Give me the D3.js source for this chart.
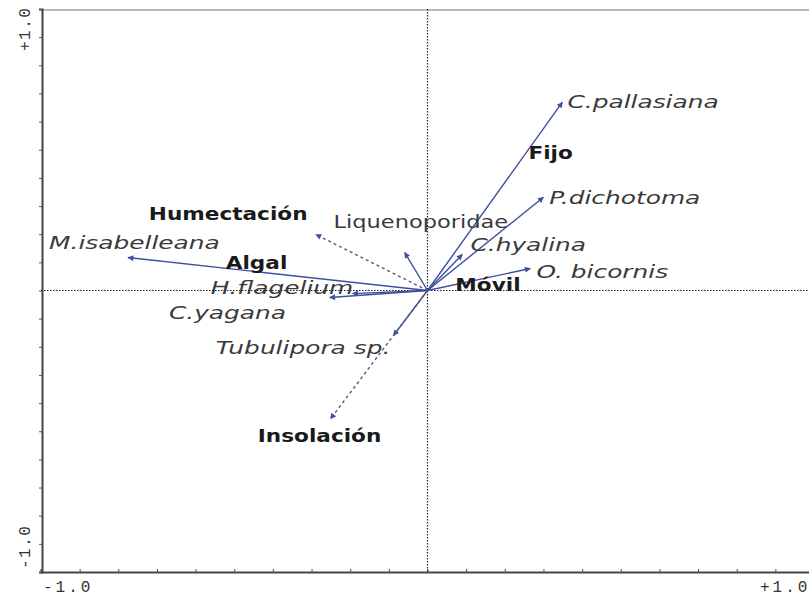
<!DOCTYPE html>
<html><head><meta charset="utf-8">
<script src="https://cdn.jsdelivr.net/npm/d3@7"></script>
<style>body{margin:0;background:#fff}</style>
</head><body>
<svg id="c" width="809" height="597"></svg>
<script>
// species (solid arrows)
const species = ["C.pallasiana","P.dichotoma","C.hyalina","O. bicornis","M.isabelleana","H.flagelium","C.yagana","Liquenoporidae","Tubulipora sp."];
const speciesX = [0.349,0.300,0.090,0.266,-0.775,-0.194,-0.253,-0.059,-0.088];
const speciesY = [0.669,0.331,0.128,0.078,0.117,-0.011,-0.025,0.135,-0.160];
const speciesLabelX = [0.362,0.315,0.111,0.282,-0.979,-0.561,-0.669,-0.243,-0.548];
const speciesLabelY = [0.648,0.306,0.139,0.046,0.149,-0.014,-0.100,0.221,-0.224];
const speciesItalic = [true,true,true,true,true,true,true,false,true];
// environmental variables (dashed arrows)
const envVars = ["Humectación","Insolación"];
const envX = [-0.289,-0.251];
const envY = [0.199,-0.456];
const envLabelX = [-0.721,-0.439];
const envLabelY = [0.249,-0.537];
// nominal variables (labels only)
const nominal = ["Algal","Fijo","Móvil"];
const nominalX = [-0.522,0.261,0.072];
const nominalY = [0.078,0.466,0.0];
// axis tick labels
const xTickLabels = ["-1.0","+1.0"];
const yTickLabels = ["-1.0","+1.0"];

const svg = d3.select("#c");
const x = d3.scaleLinear().domain([-1,1]).range([41,814]);
const y = d3.scaleLinear().domain([-1,1]).range([572,9]);
const blue = "#3d4f9f";

const defs = svg.append("defs");
defs.append("marker").attr("id","ah").attr("viewBox","0 0 10 10").attr("refX",9).attr("refY",5)
  .attr("markerWidth",7).attr("markerHeight",6).attr("markerUnits","userSpaceOnUse").attr("orient","auto")
  .append("path").attr("d","M0,0L10,5L0,10Z").attr("fill",blue);

// frame top
svg.append("line").attr("x1",x(-1)).attr("x2",809).attr("y1",y(1)+1).attr("y2",y(1)+1).attr("stroke","#777").attr("stroke-width",1.2);

// axes
const xAxis = d3.axisBottom(x).tickValues(d3.range(-10,11).map(d=>d/10)).tickSize(-3).tickFormat("");
const gx = svg.append("g").attr("transform",`translate(0,${y(-1)})`).call(xAxis);
gx.select(".domain").attr("stroke","#444").attr("stroke-width",2);
gx.selectAll(".tick line").attr("stroke","#555");
const yAxis = d3.axisLeft(y).tickValues(d3.range(-10,11).map(d=>d/10)).tickSize(3).tickFormat("");
const gy = svg.append("g").attr("transform",`translate(${x(-1)+1},0)`).call(yAxis);
gy.select(".domain").attr("stroke","#444").attr("stroke-width",2);
gy.selectAll(".tick line").attr("stroke","#555");

// tick labels
function tickText(sel, spacing){
  return sel.attr("font-family","Liberation Mono, DejaVu Sans Mono, monospace").attr("font-size","16px")
    .attr("fill","#333").attr("letter-spacing",spacing);
}
tickText(svg.append("text").attr("x",x(-1)+2).attr("y",592).text(xTickLabels[0]),"3px");
tickText(svg.append("text").attr("x",760).attr("y",592).text(xTickLabels[1]),"3px");
tickText(svg.append("text").attr("transform",`translate(30,${y(-1)-3}) rotate(-90)`).text(yTickLabels[0]),"1.5px");
tickText(svg.append("text").attr("transform",`translate(30,${y(1)+42}) rotate(-90)`).text(yTickLabels[1]),"1.5px");

// dotted zero lines
svg.append("line").attr("x1",x(-1)).attr("x2",809).attr("y1",y(0)).attr("y2",y(0))
  .attr("stroke","#222").attr("stroke-width",1.2).attr("stroke-dasharray","1.5,1.5");
svg.append("line").attr("x1",x(0)).attr("x2",x(0)).attr("y1",y(1)).attr("y2",y(-1))
  .attr("stroke","#222").attr("stroke-width",1.2).attr("stroke-dasharray","1.5,1.5");

const font = "DejaVu Sans, sans-serif";
function label(txt, px, py, style){
  const k = style==="italic" ? 1.38 : style==="bold" ? 1.2 : 1.25;
  svg.append("text").attr("transform",`translate(${px},${py}) scale(${k},1)`)
    .attr("font-family",font).attr("font-size","18px")
    .attr("font-style",style==="italic"?"italic":"normal")
    .attr("font-weight",style==="bold"?"bold":"normal")
    .attr("fill",style==="bold"?"#1a1a1a":"#3a3a3a").text(txt);
}

// species arrows
species.forEach((s,i)=>{
  svg.append("line").attr("x1",x(0)).attr("y1",y(0)).attr("x2",x(speciesX[i])).attr("y2",y(speciesY[i]))
    .attr("stroke",blue).attr("stroke-width",1.4).attr("marker-end","url(#ah)");
});
// env arrows
envVars.forEach((s,i)=>{
  svg.append("line").attr("x1",x(0)).attr("y1",y(0)).attr("x2",x(envX[i])).attr("y2",y(envY[i]))
    .attr("stroke","#555a7a").attr("stroke-width",1.4).attr("stroke-dasharray","3,3").attr("marker-end","url(#ah)");
});
species.forEach((s,i)=>label(s, x(speciesLabelX[i]), y(speciesLabelY[i]), speciesItalic[i]?"italic":"normal"));
envVars.forEach((s,i)=>label(s, x(envLabelX[i]), y(envLabelY[i]), "bold"));
nominal.forEach((s,i)=>label(s, x(nominalX[i]), y(nominalY[i]), "bold"));
</script>
</body></html>
